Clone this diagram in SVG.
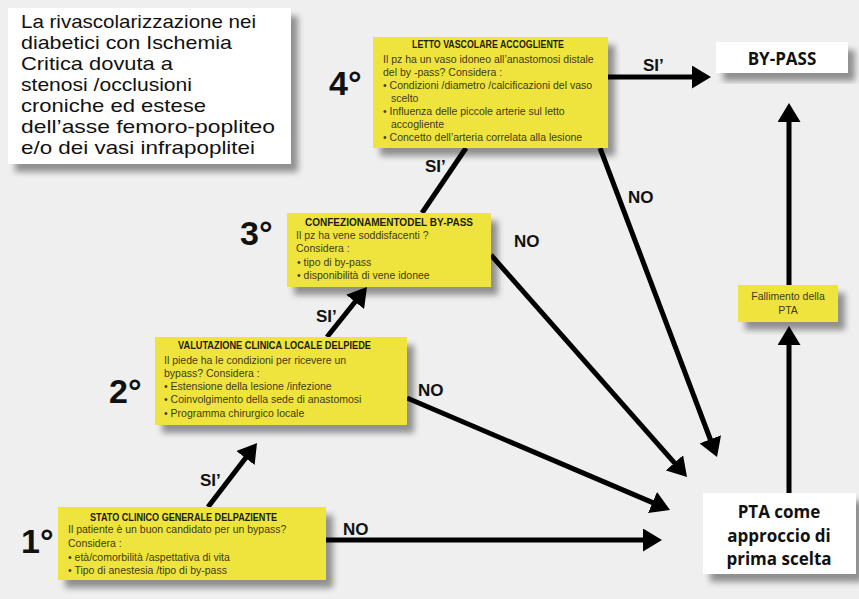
<svg xmlns="http://www.w3.org/2000/svg" width="859" height="599" viewBox="0 0 859 599">
<defs>
<style>
.yb{fill:#efe43c}
.wb{fill:#ffffff}
.hd{font-family:"Liberation Sans",Arial,sans-serif;font-weight:bold;font-size:10px;fill:#1c1c10}
.bd{font-family:"Liberation Sans",Arial,sans-serif;font-size:10.5px;fill:#3e3b16}
.num{font-family:"Liberation Sans",Arial,sans-serif;font-weight:bold;font-size:34px;fill:#111}
.lbl{font-family:"Liberation Sans",Arial,sans-serif;font-weight:bold;font-size:17px;fill:#111}
.big{font-family:"Liberation Sans",Arial,sans-serif;font-size:18.5px;fill:#111}
.bt{font-family:"Open Sans","Liberation Sans",Arial,sans-serif;font-weight:bold;font-size:17px;fill:#111;text-anchor:middle}
.cn{stroke:#000;stroke-width:5;fill:none;marker-end:url(#ah)}
.cl{stroke:#000;stroke-width:5;fill:none}
</style>
<marker id="ah" markerUnits="userSpaceOnUse" viewBox="0 0 19 23" markerWidth="19" markerHeight="23" refX="4" refY="11.5" orient="auto">
<path d="M0,0 L19,11.5 L0,23 z" fill="#000"/>
</marker>
<filter id="sh" x="-10%" y="-15%" width="130%" height="150%">
<feGaussianBlur in="SourceAlpha" stdDeviation="3"/>
<feOffset dx="7" dy="8"/>
<feComponentTransfer><feFuncA type="linear" slope="0.4"/></feComponentTransfer>
<feMerge><feMergeNode/><feMergeNode in="SourceGraphic"/></feMerge>
</filter>
</defs>
<rect x="0" y="0" width="859" height="599" fill="#efefef"/>

<g id="title">
<rect class="wb" x="8" y="8" width="283" height="156" filter="url(#sh)"/>
<text class="big" x="21" y="28" textLength="235" lengthAdjust="spacingAndGlyphs">La rivascolarizzazione nei</text>
<text class="big" x="21" y="49" textLength="211" lengthAdjust="spacingAndGlyphs">diabetici con Ischemia</text>
<text class="big" x="21" y="70" textLength="152" lengthAdjust="spacingAndGlyphs">Critica dovuta a</text>
<text class="big" x="21" y="91" textLength="171" lengthAdjust="spacingAndGlyphs">stenosi /occlusioni</text>
<text class="big" x="21" y="112" textLength="185" lengthAdjust="spacingAndGlyphs">croniche ed estese</text>
<text class="big" x="21" y="133" textLength="254" lengthAdjust="spacingAndGlyphs">dell’asse femoro-popliteo</text>
<text class="big" x="21" y="154" textLength="234" lengthAdjust="spacingAndGlyphs">e/o dei vasi infrapoplitei</text>
</g>

<g id="connectors">
<line class="cn" x1="326" y1="540" x2="647" y2="540"/>
<line class="cn" x1="407" y1="398" x2="656.2" y2="504.1"/>
<line class="cn" x1="491" y1="255" x2="677.1" y2="465.8"/>
<line class="cn" x1="600" y1="148" x2="711.7" y2="443"/>
<line class="cn" x1="208" y1="507" x2="247.9" y2="454.9"/>
<line class="cn" x1="327" y1="337" x2="357.6" y2="298.7"/>
<line class="cl" x1="422" y1="213" x2="466" y2="148"/>
<line class="cn" x1="608" y1="77" x2="696" y2="77"/>
<line class="cn" x1="789" y1="493" x2="789" y2="341"/>
<line class="cn" x1="789" y1="285" x2="789" y2="118"/>
<text class="lbl" x="343" y="535">NO</text>
<text class="lbl" x="418" y="396">NO</text>
<text class="lbl" x="514" y="247">NO</text>
<text class="lbl" x="628" y="203">NO</text>
<text class="lbl" x="200" y="486">SI’</text>
<text class="lbl" x="316" y="322">SI’</text>
<text class="lbl" x="425" y="172">SI’</text>
<text class="lbl" x="643" y="71">SI’</text>
</g>

<g id="box4">
<rect class="yb" x="373" y="37" width="235" height="111" filter="url(#sh)"/>
<text class="hd" x="412" y="48" textLength="152" lengthAdjust="spacingAndGlyphs">LETTO VASCOLARE ACCOGLIENTE</text>
<text class="bd" x="383" y="63">Il pz ha un vaso idoneo all’anastomosi distale</text>
<text class="bd" x="383" y="76">del by -pass?  Considera :</text>
<text class="bd" x="383" y="89">• Condizioni /diametro /calcificazioni  del vaso</text>
<text class="bd" x="391" y="102">scelto</text>
<text class="bd" x="383" y="115">• Influenza  delle piccole  arterie sul letto</text>
<text class="bd" x="391" y="128">accogliente</text>
<text class="bd" x="383" y="141">• Concetto  dell’arteria correlata alla lesione</text>
<text class="num" x="329" y="95">4°</text>
</g>

<g id="box3">
<rect class="yb" x="287" y="213" width="204" height="74" filter="url(#sh)"/>
<text class="hd" x="305" y="226" textLength="168" lengthAdjust="spacingAndGlyphs">CONFEZIONAMENTODEL BY-PASS</text>
<text class="bd" x="296" y="239">Il pz ha vene soddisfacenti  ?</text>
<text class="bd" x="296" y="252">Considera  :</text>
<text class="bd" x="297" y="266">•  tipo  di  by-pass</text>
<text class="bd" x="297" y="279">•  disponibilità  di vene idonee</text>
<text class="num" x="240" y="245">3°</text>
</g>

<g id="box2">
<rect class="yb" x="155" y="337" width="252" height="88" filter="url(#sh)"/>
<text class="hd" x="178" y="349" textLength="193" lengthAdjust="spacingAndGlyphs">VALUTAZIONE CLINICA LOCALE DELPIEDE</text>
<text class="bd" x="164" y="364">Il piede  ha le condizioni  per ricevere  un</text>
<text class="bd" x="164" y="377">bypass?  Considera :</text>
<text class="bd" x="164" y="390">• Estensione   della lesione /infezione</text>
<text class="bd" x="164" y="403">• Coinvolgimento  della sede di anastomosi</text>
<text class="bd" x="164" y="417">• Programma  chirurgico   locale</text>
<text class="num" x="109" y="403">2°</text>
</g>

<g id="box1">
<rect class="yb" x="58" y="507" width="268" height="73" filter="url(#sh)"/>
<text class="hd" x="90" y="521" textLength="187" lengthAdjust="spacingAndGlyphs">STATO CLINICO GENERALE DELPAZIENTE</text>
<text class="bd" x="68" y="533">Il patiente è un buon  candidato  per un  bypass?</text>
<text class="bd" x="68" y="547">Considera  :</text>
<text class="bd" x="68" y="561">• età/comorbilità /aspettativa  di vita</text>
<text class="bd" x="68" y="574">• Tipo di anestesia /tipo di  by-pass</text>
<text class="num" x="21" y="553">1°</text>
</g>

<g id="bypass">
<rect class="wb" x="716" y="42" width="132" height="31" filter="url(#sh)"/>
<text class="bt" x="782" y="65">BY-PASS</text>
</g>

<g id="fallimento">
<rect class="yb" x="738" y="285" width="100" height="37" filter="url(#sh)"/>
<text class="bd" x="788" y="300" text-anchor="middle">Fallimento della</text>
<text class="bd" x="788" y="314" text-anchor="middle">PTA</text>
</g>

<g id="pta">
<rect class="wb" x="703" y="493" width="153" height="81" filter="url(#sh)"/>
<text class="bt" x="779" y="518">PTA come</text>
<text class="bt" x="779" y="542">approccio di</text>
<text class="bt" x="779" y="565">prima scelta</text>
</g>
</svg>
